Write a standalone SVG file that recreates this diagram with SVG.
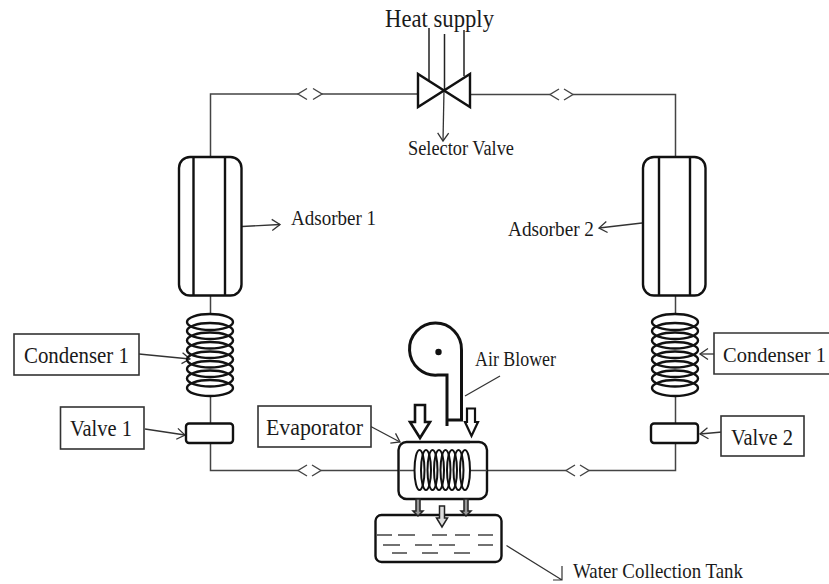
<svg xmlns="http://www.w3.org/2000/svg" width="829" height="584" viewBox="0 0 829 584">
<defs>
<marker id="open" markerWidth="14" markerHeight="14" refX="10" refY="7" orient="auto" markerUnits="userSpaceOnUse"><path d="M2 1.500L10 7L2 12.500" fill="none" stroke="#333" stroke-width="1.300"/></marker>
<g id="coilH"><ellipse cx="0" cy="0" rx="23" ry="8"/></g>
</defs>
<style>
text{font-family:"Liberation Serif","Times New Roman",serif;fill:#1a1a1a}
.pipe{fill:none;stroke:#444;stroke-width:1.500}
.thick{fill:#fff;stroke:#111;stroke-width:2.400}
.open{fill:none;stroke:#111;stroke-width:2.400}
.lead{fill:none;stroke:#333;stroke-width:1.300;marker-end:url(#open)}
.plain{fill:none;stroke:#222;stroke-width:1.500}
.thin{fill:none;stroke:#333;stroke-width:1.200}
.box{fill:#fff;stroke:#333;stroke-width:1.600}
.dbl{fill:none;stroke:#444;stroke-width:1.400}
.blk{fill:#fff;stroke:#111;stroke-width:2.600}
.dash{stroke:#444;stroke-width:1.400}
</style>
<rect width="829" height="584" fill="#fff"/>
<g id="connectors">
<path class="pipe" d="M418 94H322M298 94H210.500V157M471 94.500H550M573 94.500H675.500V157M210.500 295V314M675.500 295V314M210.500 397V424M675.500 397V424M210.500 443V470.500H298M321 470.500H399M675.500 443V470.500H589M566 470.500H487"/>
<path class="dbl" d="M307 88.500L298 94L307 99.500M313 88.500L322 94L313 99.500M559 89L550 94.500L559 100M564 89L573 94.500L564 100M307 465L298 470.500L307 476M312 465L321 470.500L312 476M575 465L566 470.500L575 476M580 465L589 470.500L580 476"/>
<path class="plain" d="M429 28V80M444.500 34V90M464 30V76"/>
<path class="lead" d="M444 90L443 141"/>
<path class="lead" d="M242 226.500L280 224.500"/>
<path class="lead" d="M642 223L599 228"/>
<path class="lead" d="M139 354L190 359"/>
<path class="lead" d="M145 429L185 435"/>
<path class="lead" d="M714 354L700 354"/>
<path class="lead" d="M722 432L700 434"/>
<path class="lead" d="M368 425L400 442"/>
<path class="thin" d="M500 376L465 396"/>
<path class="thin" d="M506.500 545.500L562 580M562 566V580H553"/>
</g>
<g id="selector-valve">
<path class="open" d="M418 74V107L470 74V107Z"/>
<text x="408" y="155" style="font-size:20px" textLength="106" lengthAdjust="spacingAndGlyphs">Selector Valve</text>
</g>
<g id="heat-supply"><text x="385" y="27" style="font-size:26px" textLength="109" lengthAdjust="spacingAndGlyphs">Heat supply</text></g>
<g id="adsorber-1">
<rect class="thick" x="179" y="157" width="62.500" height="138.500" rx="11"/>
<path class="open" d="M193.500 157V295M225 157V295"/>
<text style="font-size:21px" x="291" y="225" textLength="85" lengthAdjust="spacingAndGlyphs">Adsorber 1</text>
</g>
<g id="adsorber-2">
<rect class="thick" x="643" y="157" width="62.500" height="138.500" rx="11"/>
<path class="open" d="M659 157V295M690 157V295"/>
<text style="font-size:21px" x="508" y="236" textLength="86" lengthAdjust="spacingAndGlyphs">Adsorber 2</text>
</g>
<g id="condenser-1">
<g class="open"><use href="#coilH" x="210" y="322"/><use href="#coilH" x="210" y="331"/><use href="#coilH" x="210" y="340.500"/><use href="#coilH" x="210" y="350"/><use href="#coilH" x="210" y="359.500"/><use href="#coilH" x="210" y="369"/><use href="#coilH" x="210" y="378.500"/><use href="#coilH" x="210" y="388"/></g>
<rect class="box" x="14" y="334" width="125" height="41"/>
<text style="font-size:23px" x="24" y="363" textLength="105" lengthAdjust="spacingAndGlyphs">Condenser 1</text>
</g>
<g id="condenser-2">
<g class="open"><use href="#coilH" x="675" y="322"/><use href="#coilH" x="675" y="331"/><use href="#coilH" x="675" y="340.500"/><use href="#coilH" x="675" y="350"/><use href="#coilH" x="675" y="359.500"/><use href="#coilH" x="675" y="369"/><use href="#coilH" x="675" y="378.500"/><use href="#coilH" x="675" y="388"/></g>
<path class="box" d="M829 333H714V374H829"/>
<text style="font-size:21px" x="723" y="362" textLength="103" lengthAdjust="spacingAndGlyphs">Condenser 1</text>
</g>
<g id="valve-1">
<rect class="thick" x="186" y="423.500" width="47" height="19.500" rx="3"/>
<rect class="box" x="60.500" y="407" width="83.500" height="42"/>
<text style="font-size:23px" x="70" y="436" textLength="62" lengthAdjust="spacingAndGlyphs">Valve 1</text>
</g>
<g id="valve-2">
<rect class="thick" x="651" y="423.500" width="47" height="19.500" rx="3"/>
<rect class="box" x="721" y="416" width="83" height="40"/>
<text style="font-size:23px" x="731" y="445" textLength="62" lengthAdjust="spacingAndGlyphs">Valve 2</text>
</g>
<g id="evaporator">
<rect class="box" x="258" y="406" width="113" height="41"/>
<text style="font-size:23px" x="266" y="435" textLength="97" lengthAdjust="spacingAndGlyphs">Evaporator</text>
<rect class="thick" x="398.500" y="442" width="88.500" height="57" rx="8"/>
<path class="open" stroke-width="3" d="M440 442H470"/>
<path class="pipe" d="M399 470.500H415M470 470.500H487"/>
<g class="open" style="stroke-width:2"><ellipse cx="419.500" cy="470" rx="5" ry="20"/><ellipse cx="426" cy="470" rx="5" ry="20"/><ellipse cx="432.500" cy="470" rx="5" ry="20"/><ellipse cx="439" cy="470" rx="5" ry="20"/><ellipse cx="445.500" cy="470" rx="5" ry="20"/><ellipse cx="452" cy="470" rx="5" ry="20"/><ellipse cx="458.500" cy="470" rx="5" ry="20"/><ellipse cx="465" cy="470" rx="5" ry="20"/></g>
</g>
<g id="air-blower">
<path fill="#fff" stroke="#111" stroke-width="3" d="M447 426V375H438A26 26 0 1 1 461.500 350V420H447"/>
<circle cx="438.500" cy="352" r="3.200" fill="#111"/>
<text style="font-size:21px" x="475" y="366" textLength="81" lengthAdjust="spacingAndGlyphs">Air Blower</text>
<path class="blk" d="M415 405H425V422H430L420 438L410 422H415Z"/>
<path class="blk" style="stroke-width:2.200" d="M467 408.500H475V422H478L471.500 436L465 422H467Z"/>
</g>
<g id="water-collection-tank">
<rect class="thick" x="375.500" y="515" width="126" height="47" rx="6"/>
<path fill="#999" stroke="#222" stroke-width="1.500" d="M416 499V511H413L418 516L423 511H420V499ZM464 499V511H461L466 516L471 511H468V499Z"/>
<path fill="#ddd" stroke="#222" stroke-width="1.500" d="M439.500 506H444.500V518H447.500L442 527L436.500 518H439.500Z"/>
<path class="dash" d="M377 535H392M398 535H415M432 535H447M455 535H470M478 535H493M383 545H400M415 545H432M439 545H455M478 545H493M392 553H407M422 553H438M454 553H470"/>
<text x="573" y="578" style="font-size:21px" textLength="170" lengthAdjust="spacingAndGlyphs">Water Collection Tank</text>
</g>
</svg>
